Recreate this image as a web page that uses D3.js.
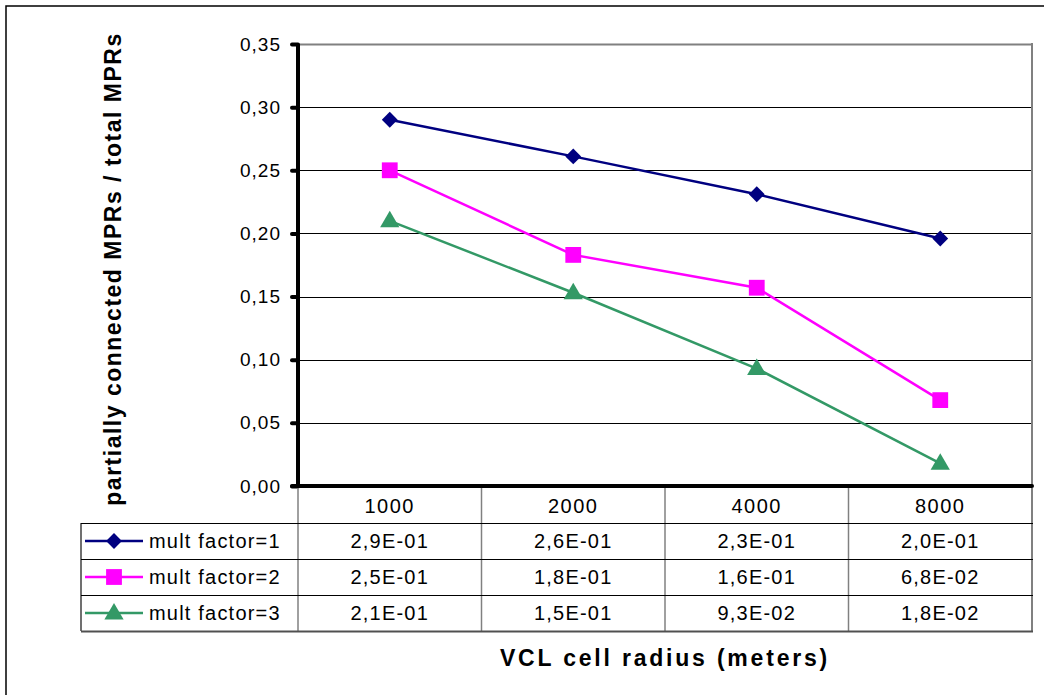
<!DOCTYPE html>
<html>
<head>
<meta charset="utf-8">
<script src="https://cdn.jsdelivr.net/npm/d3@7"></script>
<style>
  html, body { margin: 0; padding: 0; background: #fff; }
  svg { display: block; }
  text { font-family: "Liberation Sans", Arial, sans-serif; }
</style>
</head>
<body>
<svg id="chart" width="1045" height="695"></svg>
<script>
// ---- data ----
const categories = ["1000", "2000", "4000", "8000"];
const seriesNames = ["mult factor=1", "mult factor=2", "mult factor=3"];
const series1 = [0.290, 0.261, 0.231, 0.196];
const series2 = [0.250, 0.183, 0.157, 0.068];
const series3 = [0.210, 0.153, 0.093, 0.018];
const yTicks = [0, 0.05, 0.10, 0.15, 0.20, 0.25, 0.30, 0.35];
const yTitle = "partially connected MPRs / total MPRs";
const xTitle = "VCL cell radius (meters)";

const seriesValues = [series1, series2, series3];
const seriesColors = ["#000080", "#FF00FF", "#339966"];
const seriesSymbols = [d3.symbolSquare, d3.symbolSquare, d3.symbolTriangle];
const symbolSizes = [125, 250, 160];
const symbolRot = [45, 0, 0];

// ---- layout ----
const L = 298, R = 1032, T = 44, B = 486;
const tableLeft = 81, headerBottom = 523, rowH = 36;

const svg = d3.select("#chart");

// outer frame
svg.append("path").attr("d", "M6,695 L6,6 L1044,6")
  .attr("fill", "none").attr("stroke", "#000").attr("stroke-width", 1.5);

const x = d3.scaleBand().domain(categories).range([L, R]).padding(0);
const y = d3.scaleLinear().domain([0, 0.35]).range([B, T]);

// gridlines
svg.append("g").selectAll("line").data(yTicks.filter(d => d > 0))
  .join("line")
  .attr("x1", L).attr("x2", R)
  .attr("y1", d => Math.round(y(d)) + 0.5).attr("y2", d => Math.round(y(d)) + 0.5)
  .attr("stroke", (d, i, a) => i === a.length - 1 ? "#808080" : "#000")
  .attr("stroke-width", (d, i, a) => i === a.length - 1 ? 2 : 1);

// right border (gray)
svg.append("line").attr("x1", R).attr("x2", R).attr("y1", T - 1).attr("y2", B)
  .attr("stroke", "#808080").attr("stroke-width", 2);

// y axis
const yAxis = d3.axisLeft(y).tickValues(yTicks)
  .tickFormat(d => d3.format(".2f")(d).replace(".", ","))
  .tickSize(6).tickPadding(11);
const gy = svg.append("g").attr("transform", `translate(${L},0)`).call(yAxis);
gy.select(".domain").attr("stroke", "#000").attr("stroke-width", 4)
  .attr("d", `M0,${T}V${B}`);
gy.selectAll(".tick line").attr("stroke", "#000").attr("stroke-width", 4)
  .attr("stroke-linecap", "round");
gy.selectAll(".tick text").attr("font-size", 19).attr("fill", "#000")
  .attr("letter-spacing", 1);

// x axis line (thick)
svg.append("line").attr("x1", L - 6).attr("x2", R).attr("y1", B).attr("y2", B)
  .attr("stroke", "#000").attr("stroke-width", 4).attr("stroke-linecap", "round");

// series lines and markers
const line = d3.line().x((d, i) => x(categories[i]) + x.bandwidth() / 2).y(d => y(d));
seriesValues.forEach((vals, s) => {
  svg.append("path").datum(vals).attr("d", line)
    .attr("fill", "none").attr("stroke", seriesColors[s]).attr("stroke-width", 2.5);
  svg.append("g").selectAll("path").data(vals).join("path")
    .attr("transform", (d, i) => `translate(${x(categories[i]) + x.bandwidth() / 2},${y(d) + (s === 2 ? 1 : 0)}) rotate(${symbolRot[s]})`)
    .attr("d", d3.symbol().type(seriesSymbols[s]).size(symbolSizes[s]))
    .attr("fill", seriesColors[s]);
});

// ---- data table ----
const tableBottom = headerBottom + rowH * seriesNames.length;
const tg = svg.append("g");
const bounds = categories.map(c => x(c)).concat([R]);
tg.selectAll("line.v").data(bounds).join("line").attr("class", "v")
  .attr("x1", d => d).attr("x2", d => d)
  .attr("y1", B + 2).attr("y2", tableBottom)
  .attr("stroke", "#808080").attr("stroke-width", (d, i) => i === bounds.length - 1 ? 2 : 1.5);
tg.append("line").attr("x1", tableLeft).attr("x2", tableLeft)
  .attr("y1", headerBottom).attr("y2", tableBottom)
  .attr("stroke", "#404040").attr("stroke-width", 1.5);
const hys = d3.range(seriesNames.length + 1).map(i => headerBottom + i * rowH);
tg.selectAll("line.h").data(hys).join("line").attr("class", "h")
  .attr("x1", tableLeft).attr("x2", R + 1)
  .attr("y1", d => d + 0.5).attr("y2", d => d + 0.5)
  .attr("stroke", (d, i) => i === hys.length - 1 ? "#505050" : "#000")
  .attr("stroke-width", (d, i) => i === hys.length - 1 ? 2 : 1);

tg.selectAll("text.cat").data(categories).join("text").attr("class", "cat")
  .attr("x", d => x(d) + x.bandwidth() / 2)
  .attr("y", (B + headerBottom) / 2 + 8)
  .attr("text-anchor", "middle").attr("font-size", 20).attr("letter-spacing", 1.5)
  .text(d => d);

const fmt = v => {
  const [m, e] = v.toExponential(1).split("e");
  const ex = parseInt(e, 10);
  const es = (ex < 0 ? "-" : "+") + String(Math.abs(ex)).padStart(2, "0");
  return m.replace(".", ",") + "E" + es;
};
seriesValues.forEach((vals, s) => {
  const cy = headerBottom + rowH * s + rowH / 2;
  tg.append("g").selectAll("text").data(vals).join("text")
    .attr("x", (d, i) => x(categories[i]) + x.bandwidth() / 2)
    .attr("y", cy + 7)
    .attr("text-anchor", "middle").attr("font-size", 20).attr("letter-spacing", 1.2)
    .text(d => fmt(d));
  tg.append("line").attr("x1", 85).attr("x2", 143).attr("y1", cy).attr("y2", cy)
    .attr("stroke", seriesColors[s]).attr("stroke-width", 2.5);
  tg.append("path").attr("transform", `translate(114,${cy + (s === 2 ? 1 : 0)}) rotate(${symbolRot[s]})`)
    .attr("d", d3.symbol().type(seriesSymbols[s]).size(symbolSizes[s]))
    .attr("fill", seriesColors[s]);
  tg.append("text").attr("x", 149).attr("y", cy + 7)
    .attr("font-size", 20).attr("letter-spacing", 1.2)
    .text(seriesNames[s]);
});

// axis titles
svg.append("text")
  .attr("transform", `translate(121,269) rotate(-90)`)
  .attr("text-anchor", "middle").attr("font-size", 23).attr("font-weight", "bold")
  .attr("letter-spacing", 1.5)
  .text(yTitle);
svg.append("text")
  .attr("x", 665).attr("y", 666)
  .attr("text-anchor", "middle").attr("font-size", 23).attr("font-weight", "bold")
  .attr("letter-spacing", 2.8)
  .text(xTitle);
</script>
</body>
</html>
